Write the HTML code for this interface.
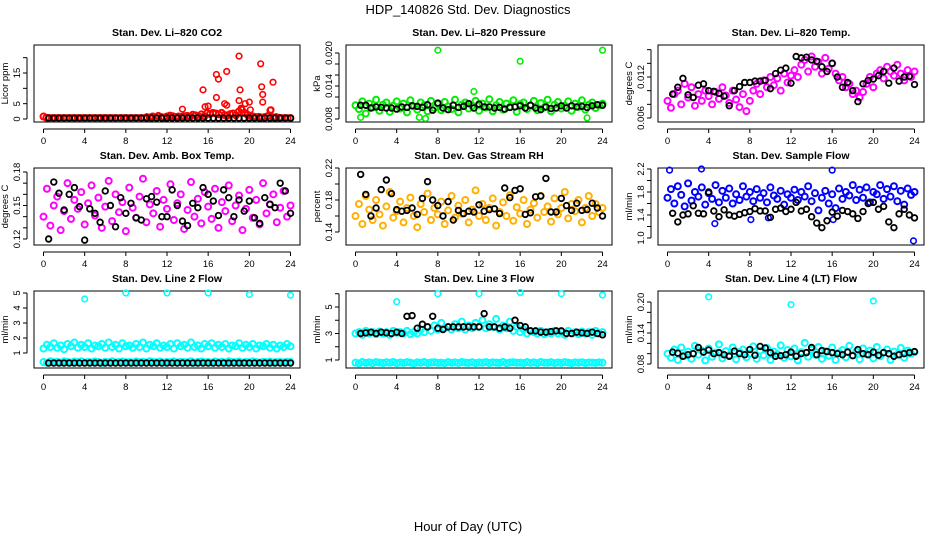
<!DOCTYPE html>
<html><head><meta charset="utf-8"><style>
html,body{margin:0;padding:0;background:#fff;}
svg{display:block;font-family:"Liberation Sans",Arial,sans-serif;}
</style></head><body>
<svg id="c" width="936" height="540" viewBox="0 0 936 540">
<text x="468" y="14" text-anchor="middle" font-size="13">HDP_140826  Std. Dev. Diagnostics</text>
<text x="468" y="531" text-anchor="middle" font-size="13">Hour of Day (UTC)</text>
</svg>
<script>
// ---- data arrays (values over 0..24 h, evenly spaced) ----
const co2Red=[0.8,0.4,0.3,0.3,0.3,0.3,0.3,0.3,0.3,0.3,0.3,0.3,0.3,0.3,0.3,0.3,0.3,0.3,0.3,0.3,0.3,0.3,0.3,0.3,0.3,0.3,0.3,0.3,0.3,0.3,0.3,0.3,0.3,0.3,0.3,0.3,0.6,0.5,0.8,0.5,1.0,0.6,0.5,0.8,1.1,0.9,0.6,0.8,0.7,0.9,1.0,0.7,1.4,1.2,0.8,1.5,0.9,1.9,1.6,2.0,1.8,1.5,2.0,1.3,1.1,1.6,1.8,1.2,2.4,3.0,2.0,1.4,1.0,0.8,0.6,0.7,0.5,0.6,0.9,2.8,0.5,0.6,0.4,0.3,0.3,0.3,0.3];
const co2OutX=[15.5,15.7,16,16.8,17,16.8,17.6,17.8,17.8,19,19.1,19,19.2,19.6,20,20.1,21.1,21.2,21.3,21.3,22.3,22.1,13.5];
const co2OutY=[9.5,4,4.2,14.5,13,7,5,4.5,15.5,20.5,9.5,6,3.5,5,5.5,3,18,10.5,8,5.5,12,3,3.2];
const co2Black=[0.3,0.3,0.3,0.3,0.3,0.3,0.3,0.3,0.3,0.3,0.3,0.3,0.3,0.3,0.3,0.3,0.3,0.3,0.3,0.3,0.3,0.3,0.3,0.3,0.3,0.3,0.3,0.3,0.3,0.3,0.3,0.3,0.3,0.3,0.3,0.3,0.3,0.3,0.3,0.3,0.3,0.3,0.3,0.3,0.3,0.3,0.3,0.3];

const presGreen=[0.0105,0.0098,0.0112,0.0090,0.0108,0.0101,0.0115,0.0095,0.0106,0.0110,0.0093,0.0104,0.0112,0.0099,0.0108,0.0092,0.0114,0.0103,0.0097,0.0110,0.0105,0.0094,0.0113,0.0100,0.0107,0.0096,0.0111,0.0103,0.0098,0.0115,0.0092,0.0106,0.0110,0.0099,0.0104,0.0113,0.0095,0.0108,0.0101,0.0116,0.0094,0.0105,0.0111,0.0097,0.0108,0.0102,0.0114,0.0093,0.0107,0.0110,0.0098,0.0104,0.0113,0.0096,0.0109,0.0101,0.0115,0.0094,0.0106,0.0111,0.0099,0.0104,0.0112,0.0095,0.0108,0.0102,0.0114,0.0097,0.0106,0.0110,0.0100,0.0105,0.0108];
const presOutX=[8,16,24,0.5,6.8,6.2,11.5,22.5];
const presOutY=[0.0205,0.0185,0.0205,0.0083,0.0081,0.0083,0.013,0.0082];
const presBlack=[0.0105,0.0105,0.0100,0.0102,0.0101,0.0100,0.0100,0.0098,0.0102,0.0101,0.0104,0.0103,0.0101,0.0106,0.0096,0.0109,0.0100,0.0097,0.0105,0.0101,0.0103,0.0108,0.0100,0.0107,0.0102,0.0102,0.0100,0.0101,0.0098,0.0101,0.0102,0.0104,0.0100,0.0105,0.0100,0.0097,0.0102,0.0099,0.0100,0.0104,0.0100,0.0104,0.0102,0.0103,0.0101,0.0104,0.0106,0.0105];

const tempMag=[0.0085,0.0075,0.0095,0.0100,0.0080,0.0110,0.0090,0.0105,0.0078,0.0095,0.0085,0.0100,0.0092,0.0080,0.0098,0.0088,0.0105,0.0093,0.0082,0.0100,0.0087,0.0076,0.0095,0.0070,0.0085,0.0100,0.0110,0.0095,0.0115,0.0105,0.0120,0.0108,0.0118,0.0100,0.0125,0.0112,0.0122,0.0130,0.0120,0.0138,0.0145,0.0128,0.0150,0.0135,0.0142,0.0125,0.0148,0.0132,0.0140,0.0125,0.0115,0.0120,0.0105,0.0110,0.0095,0.0100,0.0090,0.0098,0.0110,0.0120,0.0105,0.0125,0.0130,0.0118,0.0135,0.0128,0.0122,0.0138,0.0125,0.0115,0.0130,0.0120,0.0128];
const tempBlack=[0.0095,0.0105,0.0118,0.0094,0.0090,0.0108,0.0110,0.0100,0.0099,0.0096,0.0092,0.0078,0.0100,0.0106,0.0112,0.0112,0.0114,0.0114,0.0115,0.0103,0.0125,0.0130,0.0133,0.0111,0.0150,0.0148,0.0149,0.0145,0.0143,0.0135,0.0128,0.0140,0.0120,0.0105,0.0112,0.0100,0.0084,0.0110,0.0115,0.0117,0.0122,0.0128,0.0111,0.0133,0.0114,0.0120,0.0121,0.0109];

const ambMag=[0.140,0.165,0.132,0.150,0.158,0.128,0.145,0.170,0.138,0.155,0.147,0.162,0.133,0.152,0.168,0.141,0.157,0.130,0.149,0.172,0.136,0.160,0.144,0.153,0.127,0.166,0.148,0.139,0.158,0.174,0.135,0.151,0.143,0.163,0.131,0.155,0.147,0.169,0.137,0.152,0.160,0.129,0.146,0.171,0.140,0.156,0.134,0.162,0.149,0.138,0.165,0.130,0.153,0.145,0.168,0.136,0.150,0.159,0.128,0.147,0.164,0.139,0.155,0.133,0.170,0.143,0.151,0.160,0.135,0.148,0.163,0.140,0.150];
const ambBlack=[0.120,0.171,0.161,0.146,0.160,0.166,0.149,0.119,0.147,0.143,0.135,0.163,0.150,0.131,0.157,0.143,0.152,0.139,0.137,0.156,0.158,0.153,0.140,0.140,0.164,0.150,0.136,0.132,0.152,0.148,0.166,0.160,0.154,0.141,0.164,0.157,0.140,0.155,0.145,0.154,0.139,0.134,0.157,0.151,0.148,0.170,0.163,0.143];

const rhOrange=[0.160,0.175,0.150,0.185,0.168,0.155,0.180,0.162,0.148,0.172,0.190,0.158,0.166,0.178,0.152,0.170,0.183,0.160,0.146,0.175,0.165,0.188,0.155,0.170,0.162,0.178,0.150,0.167,0.185,0.158,0.173,0.163,0.180,0.152,0.168,0.192,0.160,0.175,0.155,0.170,0.182,0.148,0.165,0.177,0.160,0.186,0.154,0.171,0.163,0.180,0.150,0.168,0.176,0.158,0.185,0.165,0.172,0.153,0.182,0.162,0.170,0.190,0.157,0.175,0.166,0.180,0.152,0.170,0.185,0.160,0.175,0.165,0.170];
const rhBlack=[0.212,0.187,0.160,0.170,0.193,0.205,0.188,0.168,0.166,0.167,0.170,0.162,0.182,0.203,0.180,0.173,0.160,0.178,0.155,0.167,0.163,0.166,0.165,0.174,0.166,0.168,0.169,0.163,0.195,0.183,0.192,0.194,0.162,0.164,0.184,0.185,0.207,0.165,0.165,0.182,0.173,0.167,0.176,0.167,0.168,0.176,0.170,0.160];

const flowBlue=[1.70,1.85,1.60,1.90,1.75,1.55,1.95,1.65,1.80,1.72,1.88,1.58,1.78,1.68,1.92,1.62,1.82,1.70,1.86,1.60,1.76,1.66,1.90,1.72,1.80,1.64,1.85,1.70,1.78,1.62,1.88,1.74,1.68,1.82,1.58,1.76,1.70,1.84,1.66,1.80,1.72,1.90,1.64,1.78,1.48,1.70,1.82,1.60,1.76,1.52,1.86,1.68,1.80,1.74,1.92,1.66,1.84,1.70,1.88,1.62,1.80,1.76,1.92,1.68,1.85,1.72,1.90,1.64,1.82,1.58,1.86,1.75,1.80];
const flowOutX=[0.2,3.3,16,23.9,4.6,8.1,16.1,9.8];
const flowOutY=[2.18,2.2,2.18,0.95,1.25,1.32,1.32,1.35];
const flowBlack=[1.43,1.28,1.40,1.42,1.56,1.43,1.42,1.80,1.47,1.37,1.49,1.40,1.38,1.41,1.44,1.46,1.51,1.47,1.47,1.36,1.50,1.52,1.46,1.50,1.62,1.47,1.50,1.37,1.26,1.18,1.30,1.45,1.38,1.48,1.46,1.42,1.34,1.46,1.60,1.62,1.50,1.55,1.28,1.18,1.42,1.50,1.40,1.35];

const l2CyanA=[1.30,1.55,1.40,1.65,1.35,1.50,1.25,1.60,1.45,1.70,1.35,1.55,1.40,1.65,1.30,1.50,1.45,1.60,1.35,1.70,1.40,1.55,1.30,1.65,1.45,1.50,1.35,1.60,1.40,1.70,1.30,1.55,1.45,1.65,1.35,1.50,1.40,1.60,1.30,1.65,1.45,1.55,1.35,1.70,1.40,1.50,1.30,1.60,1.45,1.65,1.35,1.55,1.40,1.60,1.30,1.50,1.45,1.65,1.35,1.55,1.40,1.60,1.30,1.50,1.45,1.60,1.35,1.55,1.30,1.50,1.40,1.60,1.45];
const l2CyanB=[0.40,0.35,0.45,0.38,0.42,0.36,0.44,0.40,0.37,0.43,0.39,0.45,0.36,0.41,0.38,0.44,0.40,0.35,0.42,0.39,0.45,0.37,0.41,0.43,0.38,0.40,0.36,0.44,0.39,0.42,0.37,0.45,0.40,0.38,0.43,0.36,0.41,0.39,0.44,0.37,0.42,0.40,0.38,0.45,0.36,0.41,0.43,0.39,0.40,0.37,0.44,0.38,0.42,0.36,0.45,0.40,0.39,0.43,0.37,0.41,0.38,0.44,0.40,0.36,0.42,0.39,0.43,0.37,0.41,0.40,0.38,0.42,0.40];
const l2OutX=[4,8,12,16,20,24];
const l2OutY=[4.6,5.0,5.0,5.0,4.9,4.85];
const l2Black=[0.33,0.33,0.33,0.33,0.33,0.33,0.33,0.33,0.33,0.33,0.33,0.33,0.33,0.33,0.33,0.33,0.33,0.33,0.33,0.33,0.33,0.33,0.33,0.33,0.33,0.33,0.33,0.33,0.33,0.33,0.33,0.33,0.33,0.33,0.33,0.33,0.33,0.33,0.33,0.33,0.33,0.33,0.33,0.33,0.33,0.33,0.33,0.33];

const l3CyanA=[3.0,3.1,2.9,3.2,3.0,3.1,2.95,3.15,3.0,3.1,2.9,3.2,3.05,3.1,3.0,3.2,2.95,3.1,3.0,3.3,3.1,3.5,3.2,3.6,3.3,3.8,3.4,3.5,3.3,3.7,3.4,3.9,3.3,3.6,3.4,3.8,3.5,4.0,3.4,3.7,3.5,4.1,3.3,3.6,3.4,3.9,3.2,3.5,3.1,3.3,3.0,3.2,3.1,3.0,3.2,2.95,3.1,3.0,3.2,3.0,3.1,2.9,3.2,3.0,3.1,2.95,3.15,3.0,3.1,2.9,3.2,3.0,3.1];
const l3CyanB=[0.80,0.75,0.85,0.78,0.82,0.76,0.84,0.80,0.77,0.83,0.79,0.85,0.76,0.81,0.78,0.84,0.80,0.75,0.82,0.79,0.85,0.77,0.81,0.83,0.78,0.80,0.76,0.84,0.79,0.82,0.77,0.85,0.80,0.78,0.83,0.76,0.81,0.79,0.84,0.77,0.82,0.80,0.78,0.85,0.76,0.81,0.83,0.79,0.80,0.77,0.84,0.78,0.82,0.76,0.85,0.80,0.79,0.83,0.77,0.81,0.78,0.84,0.80,0.76,0.82,0.79,0.83,0.77,0.81,0.80,0.78,0.82,0.80];
const l3OutX=[4,8,12,16,20,24];
const l3OutY=[5.4,6.0,6.0,6.1,6.0,5.9];
const l3Black=[3.0,3.05,3.1,3.0,3.1,3.05,3.0,3.1,3.0,4.3,4.35,3.4,3.7,3.5,4.3,3.4,3.3,3.5,3.5,3.5,3.5,3.5,3.5,3.5,4.5,3.5,3.5,3.4,3.5,3.4,4.0,3.6,3.5,3.2,3.2,3.1,3.1,3.15,3.2,3.2,3.0,3.0,3.1,3.05,3.0,3.1,3.0,2.9];

const l4Cyan=[0.100,0.092,0.108,0.088,0.112,0.096,0.104,0.090,0.115,0.098,0.106,0.087,0.110,0.094,0.102,0.118,0.091,0.105,0.097,0.112,0.089,0.103,0.108,0.093,0.100,0.114,0.090,0.106,0.097,0.111,0.088,0.104,0.099,0.116,0.092,0.107,0.095,0.110,0.087,0.103,0.121,0.094,0.108,0.098,0.113,0.090,0.105,0.096,0.112,0.088,0.102,0.107,0.093,0.115,0.097,0.104,0.089,0.110,0.099,0.106,0.091,0.113,0.095,0.102,0.108,0.088,0.104,0.098,0.111,0.092,0.106,0.100,0.103];
const l4OutX=[4,12,20];
const l4OutY=[0.21,0.195,0.202];
const l4Black=[0.103,0.101,0.095,0.098,0.100,0.112,0.103,0.107,0.100,0.102,0.098,0.095,0.105,0.100,0.098,0.108,0.097,0.114,0.111,0.102,0.095,0.096,0.098,0.103,0.095,0.100,0.102,0.112,0.098,0.106,0.104,0.102,0.100,0.098,0.103,0.096,0.108,0.100,0.098,0.103,0.097,0.102,0.100,0.095,0.098,0.100,0.102,0.104];

const xTicks=[0,4,8,12,16,20,24];

// ---- panel definitions ----
const panels=[
 {t:"Stan. Dev. Li\u2013820 CO2",yl:"Licor ppm",a:[0,119],b:[15,73],ticks:[0,5,10,15,20],labs:["0","5","","15",""],
  s:[[co2Red,"#ff0000"]],o:[[co2OutX,co2OutY,"#ff0000"]],k:co2Black},
 {t:"Stan. Dev. Li\u2013820 Pressure",yl:"kPa",a:[0.008,119],b:[0.020,53],ticks:[0.008,0.010,0.012,0.014,0.016,0.018,0.020],labs:["0.008","","","0.014","","","0.020"],
  s:[[presGreen,"#00ee00"]],o:[[presOutX,presOutY,"#00ee00"]],k:presBlack},
 {t:"Stan. Dev. Li\u2013820 Temp.",yl:"degrees C",a:[0.006,118],b:[0.012,77],ticks:[0.006,0.008,0.010,0.012,0.014,0.016],labs:["0.006","","","0.012","",""],
  s:[[tempMag,"#ff00ff"]],o:[],k:tempBlack},
 {t:"Stan. Dev. Amb. Box Temp.",yl:"degrees C",a:[0.12,239],b:[0.18,172],ticks:[0.12,0.13,0.14,0.15,0.16,0.17,0.18],labs:["0.12","","","0.15","","","0.18"],
  s:[[ambMag,"#ff00ff"]],o:[],k:ambBlack},
 {t:"Stan. Dev. Gas Stream RH",yl:"percent",a:[0.14,232],b:[0.22,168],ticks:[0.14,0.16,0.18,0.20,0.22],labs:["0.14","","0.18","","0.22"],
  s:[[rhOrange,"#ffb000"]],o:[],k:rhBlack},
 {t:"Stan. Dev. Sample Flow",yl:"ml/min",a:[1.0,238],b:[2.2,169],ticks:[1.0,1.2,1.4,1.6,1.8,2.0,2.2],labs:["1.0","","1.4","","1.8","","2.2"],
  s:[[flowBlue,"#0000ff"]],o:[[flowOutX,flowOutY,"#0000ff"]],k:flowBlack},
 {t:"Stan. Dev. Line 2 Flow",yl:"ml/min",a:[1,353],b:[5,293],ticks:[1,2,3,4,5],labs:["1","2","3","4","5"],
  s:[[l2CyanA,"#00ffff"],[l2CyanB,"#00ffff"]],o:[[l2OutX,l2OutY,"#00ffff"]],k:l2Black},
 {t:"Stan. Dev. Line 3 Flow",yl:"ml/min",a:[1,360],b:[5,307],ticks:[1,2,3,4,5,6],labs:["1","","3","","5",""],
  s:[[l3CyanA,"#00ffff"],[l3CyanB,"#00ffff"]],o:[[l3OutX,l3OutY,"#00ffff"]],k:l3Black},
 {t:"Stan. Dev. Line 4 (LT) Flow",yl:"ml/min",a:[0.08,364],b:[0.20,302],ticks:[0.08,0.10,0.12,0.14,0.16,0.18,0.20],labs:["0.08","","","0.14","","","0.20"],
  s:[[l4Cyan,"#00ffff"]],o:[[l4OutX,l4OutY,"#00ffff"]],k:l4Black}
];

const NS="http://www.w3.org/2000/svg";
const svg=document.getElementById("c");
function mk(tag,attrs,parent){const e=document.createElementNS(NS,tag);for(const k in attrs)e.setAttribute(k,attrs[k]);(parent||svg).appendChild(e);return e;}
const colLeft=[34,346,658], rowTop=[45,168,291], W=266, H=77;

panels.forEach((p,i)=>{
  const L=colLeft[i%3], T=rowTop[Math.floor(i/3)];
  const g=mk("g",{});
  
  
  const xs=h=>L+9.5+h*(W-19)/24;
  const ys=v=>p.a[1]+(v-p.a[0])*(p.b[1]-p.a[1])/(p.b[0]-p.a[0]);
  const tt=mk("text",{x:L+W/2,y:T-9,"text-anchor":"middle","font-size":"10.5","font-weight":"bold"},g);
  tt.textContent=p.t;
  
  
  const box=mk("rect",{x:L,y:T,width:W,height:H,fill:"none",stroke:"#000","stroke-width":"1"},g);
  
  
  const xa=mk("g",{},g);
  
  
  mk("line",{x1:xs(0),x2:xs(24),y1:T+H+7,y2:T+H+7,stroke:"#000"},xa);
  xTicks.forEach(v=>{
    mk("line",{x1:xs(v),x2:xs(v),y1:T+H+7,y2:T+H+11,stroke:"#000"},xa);
    const tx=mk("text",{x:xs(v),y:T+H+22,"text-anchor":"middle","font-size":"9.5"},xa);
    tx.textContent=v;
    
    
  });
  const ya=mk("g",{},g);
  
  
  const y0=ys(p.ticks[0]), y1=ys(p.ticks[p.ticks.length-1]);
  mk("line",{x1:L-7,x2:L-7,y1:y0,y2:Math.max(y1,T),stroke:"#000"},ya);
  p.ticks.forEach((v,j)=>{
    const yy=ys(v); if(yy<T-1)return;
    mk("line",{x1:L-11,x2:L-7,y1:yy,y2:yy,stroke:"#000"},ya);
    if(p.labs[j]){
      const tx=mk("text",{x:L-14,y:yy,"text-anchor":"middle","font-size":"9.5",transform:`rotate(-90 ${L-14} ${yy})`},ya);
      tx.textContent=p.labs[j];
      
      
    }
  });
  const yt=mk("text",{x:L-26,y:T+H/2,"text-anchor":"middle","font-size":"9.5",transform:`rotate(-90 ${L-26} ${T+H/2})`},ya);
  yt.textContent=p.yl;
  
  
  p.s.forEach(([arr,col])=>{
    const sg=mk("g",{},g);
    
    
    arr.forEach((v,j)=>{
      const c=mk("circle",{cx:xs(j*24/(arr.length-1)),cy:ys(v),r:3,fill:"none",stroke:col,"stroke-width":"2"},sg);
      
      
    });
  });
  p.o.forEach(([ox,oy,col])=>{
    ox.forEach((h,j)=>{
      const c=mk("circle",{cx:xs(h),cy:ys(oy[j]),r:2.8,fill:"none",stroke:col,"stroke-width":"1.6"},g);
      
      
    });
  });
  const kg=mk("g",{},g);
  
  
  p.k.forEach((v,j)=>{
    const c=mk("circle",{cx:xs((j+1)*0.5),cy:ys(v),r:2.8,fill:"none",stroke:"#000","stroke-width":"1.8"},kg);
    
    
  });
});
</script>
</body></html>
